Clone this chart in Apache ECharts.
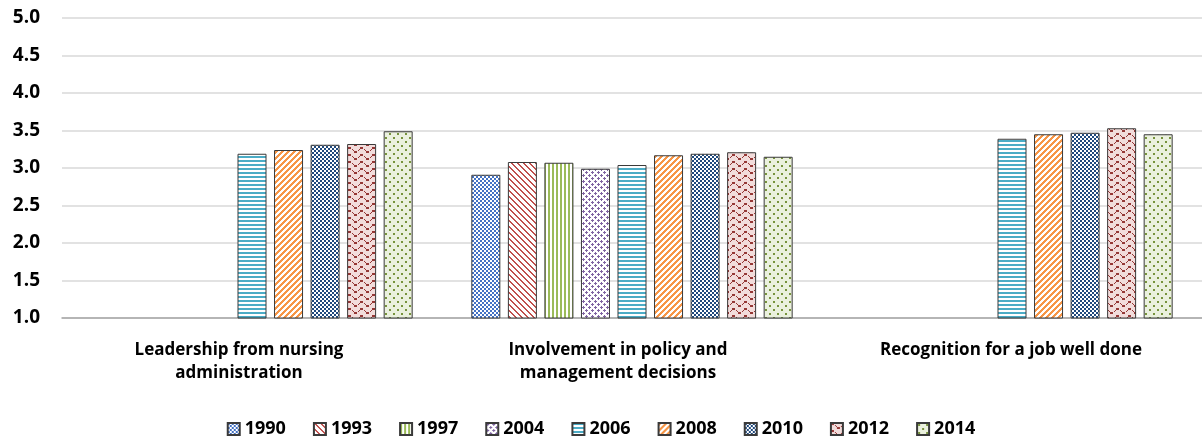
<!DOCTYPE html>
<html>
<head>
<meta charset="utf-8">
<script src="https://cdn.jsdelivr.net/npm/echarts@6/dist/echarts.min.js"></script>
<style>
html,body{margin:0;padding:0;background:#fff;}
#chart{width:1202px;height:442px;}
</style>
</head>
<body>
<div id="chart"></div>
<script>
// ---- data ----
const categories = [
  'Leadership from nursing\nadministration',
  'Involvement in policy and\nmanagement decisions',
  'Recognition for a job well done'
];
const years = ['1990','1993','1997','2004','2006','2008','2010','2012','2014'];
const s1990 = [null, 2.91, null];
const s1993 = [null, 3.08, null];
const s1997 = [null, 3.07, null];
const s2004 = [null, 2.99, null];
const s2006 = [3.19, 3.04, 3.39];
const s2008 = [3.24, 3.17, 3.45];
const s2010 = [3.31, 3.19, 3.47];
const s2012 = [3.32, 3.21, 3.53];
const s2014 = [3.49, 3.15, 3.45];
const seriesValues = [s1990, s1993, s1997, s2004, s2006, s2008, s2010, s2012, s2014];
const yTicks = ['1.0','1.5','2.0','2.5','3.0','3.5','4.0','4.5','5.0'];

// ---- pattern fills ----
function pixelPattern(w, h, bg, fg, test) {
  const c = document.createElement('canvas');
  c.width = w; c.height = h;
  const ctx = c.getContext('2d');
  ctx.fillStyle = bg; ctx.fillRect(0, 0, w, h);
  ctx.fillStyle = fg;
  for (let y = 0; y < h; y++) for (let x = 0; x < w; x++) if (test(x, y)) ctx.fillRect(x, y, 1, 1);
  return { image: c, repeat: 'repeat' };
}
function listPattern(w, h, bg, fg, pts) {
  const set = new Set(pts.map(p => p[0] + ',' + p[1]));
  return pixelPattern(w, h, bg, fg, (x, y) => set.has(x + ',' + y));
}
const patterns = [
  pixelPattern(4, 4, '#ffffff', '#4472C4', (x, y) => (((x >> 1) + (y >> 1)) % 2) === 0),
  pixelPattern(6, 6, '#ffffff', '#C0504D', (x, y) => ((x - y + 60) % 6) < 2),
  pixelPattern(4, 4, '#ffffff', '#9BBB59', (x, y) => (x % 4) < 2),
  listPattern(6, 6, '#ffffff', '#8064A2', [[1,0],[0,1],[1,1],[2,1],[1,2],[4,3],[3,4],[4,4],[5,4],[4,5]]),
  pixelPattern(4, 4, '#ffffff', '#4BACC6', (x, y) => (y % 4) < 2),
  pixelPattern(6, 6, '#ffffff', '#F79646', (x, y) => ((x + y) % 6) < 3),
  pixelPattern(4, 4, '#ffffff', '#1F497D', (x, y) => (((x >> 1) + (y >> 1)) % 2) === 0),
  listPattern(12, 7, '#F2DCDB', '#953735', [[0,0],[1,0],[2,0],[0,1],[1,1],[2,1],[4,2],[5,3],[6,4],[7,4],[8,4],[6,5],[7,5],[8,5],[10,3],[11,2]]),
  listPattern(8, 8, '#EBF1DE', '#77933C', [[1,1],[2,1],[1,2],[2,2],[5,5],[6,5],[5,6],[6,6]])
];

const FONT = '"Open Sans", Lato, sans-serif';
const labelShift = [26, 28, 2];
const catStyle = { fontFamily: FONT, fontWeight: 'bold', fontSize: 17, color: '#000', lineHeight: 23 };

const chart = echarts.init(document.getElementById('chart'), null, { renderer: 'canvas' });
chart.setOption({
  animation: false,
  backgroundColor: '#ffffff',
  grid: { left: 62, right: -9, top: 18, bottom: 124, containLabel: false },
  legend: {
    bottom: -1,
    left: 'center',
    itemWidth: 12,
    itemHeight: 12,
    itemGap: 27,
    itemTextGap: 4,
    icon: 'rect',
    textStyle: { fontFamily: FONT, fontWeight: 'bold', fontSize: 18, color: '#000' },
    data: years
  },
  xAxis: {
    type: 'category',
    data: categories,
    axisLine: { lineStyle: { color: '#a6a6a6', width: 1.5 } },
    axisTick: { show: false },
    axisLabel: {
      interval: 0,
      margin: 21,
      formatter: function (v, i) {
        return v.split('\n').map(s => '{c' + i + '|' + s + '}').join('\n');
      },
      rich: {
        c0: Object.assign({ padding: [0, labelShift[0], 0, 0] }, catStyle),
        c1: Object.assign({ padding: [0, labelShift[1], 0, 0] }, catStyle),
        c2: Object.assign({ padding: [0, labelShift[2], 0, 0] }, catStyle)
      }
    }
  },
  yAxis: {
    type: 'value',
    min: 1, max: 5, interval: 0.5,
    axisLine: { show: false },
    axisTick: { show: false },
    splitLine: { lineStyle: { color: '#d9d9d9', width: 1.5 } },
    axisLabel: {
      margin: 22,
      fontFamily: FONT, fontWeight: 'bold', fontSize: 19, color: '#000',
      formatter: function (v) { const i = Math.round((v - 1) / 0.5); return yTicks[i]; }
    }
  },
  series: years.map((y, k) => ({
    name: y,
    type: 'bar',
    data: seriesValues[k],
    barWidth: 29,
    barGap: '26%',
    itemStyle: { color: patterns[k], borderColor: '#3a3a3a', borderWidth: 1 }
  }))
});
</script>
</body>
</html>
